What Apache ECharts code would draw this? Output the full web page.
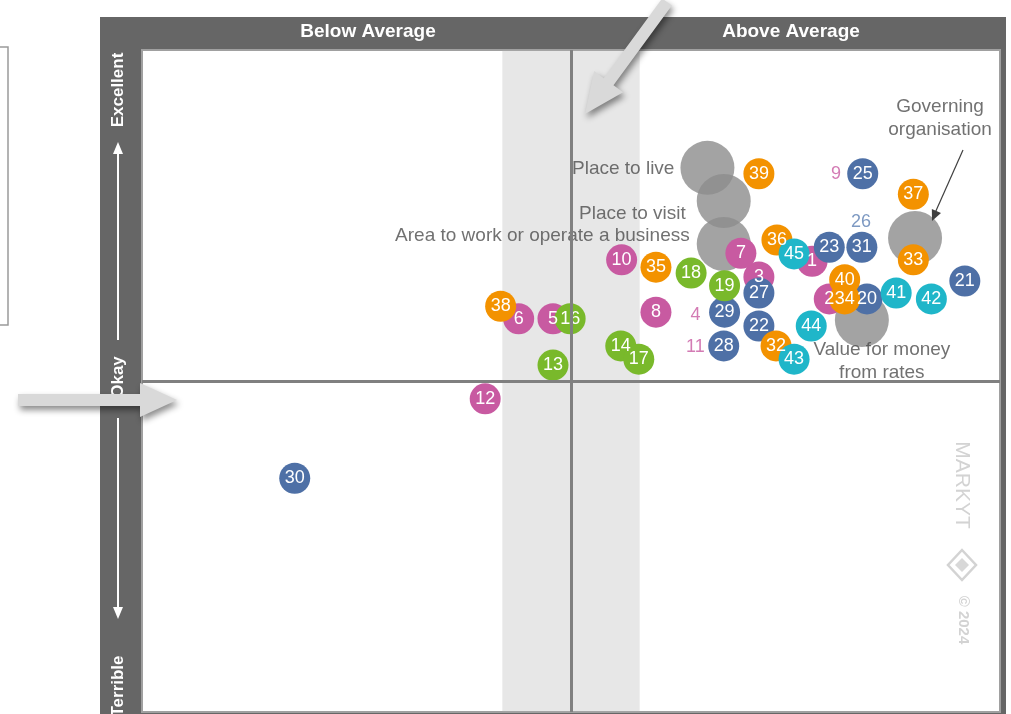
<!DOCTYPE html>
<html>
<head>
<meta charset="utf-8">
<script src="https://cdn.jsdelivr.net/npm/echarts@6/dist/echarts.min.js"></script>
<style>
  html, body { margin: 0; padding: 0; background: #fff; }
  #main { width: 1011px; height: 714px; }
</style>
</head>
<body>
<div id="main"></div>
<script>
// each point: [reputation score (x), performance score (y), council id]
var pinkPts = [[78.1, 68.1, '1'], [80.1, 62.4, '2'], [71.9, 65.7, '3'], [43.9, 59.4, '6'], [47.9, 59.4, '5'],
  [69.8, 69.3, '7'], [59.9, 60.4, '8'], [55.9, 68.3, '10'], [40.0, 47.3, '12']];
var pinkTextOnly = [[64.5, 60.0, '4'], [80.9, 81.3, '9'], [64.5, 55.1, '11']];
var bluePts = [[84.5, 62.4, '20'], [95.9, 65.1, '21'], [71.9, 58.3, '22'], [80.1, 70.2, '23'], [84.0, 81.3, '25'],
  [71.9, 63.3, '27'], [67.8, 55.3, '28'], [67.9, 60.4, '29'], [17.8, 35.3, '30'], [83.9, 70.2, '31']];
var blueTextOnly = [[83.8, 74.0, '26']];
var orangePts = [[73.9, 55.3, '32'], [89.9, 68.3, '33'], [81.9, 65.3, '40'], [81.9, 62.4, '34'], [59.9, 67.2, '35'],
  [74.0, 71.3, '36'], [89.9, 78.2, '37'], [41.8, 61.3, '38'], [71.9, 81.3, '39']];
var greenPts = [[47.9, 52.4, '13'], [55.8, 55.3, '14'], [49.9, 59.4, '16'], [57.9, 53.3, '17'], [64.0, 66.3, '18'],
  [67.9, 64.4, '19']];
var tealPts = [[87.9, 63.3, '41'], [92.0, 62.4, '42'], [76.0, 53.3, '43'], [78.0, 58.3, '44'], [76.0, 69.2, '45']];
// overall averages per dimension
var greyNames = ['Place to live', 'Place to visit', 'Area to work or operate a business', 'Governing\norganisation', 'Value for money\nfrom rates'];
var greyPts = [[65.9, 82.2], [67.8, 77.2], [67.8, 70.7], [90.1, 71.6], [83.9, 59.2]];
var averageBand = [42, 58];
var midValue = 50;

var myChart = echarts.init(document.getElementById('main'));

function arrowPts(sx, sy, tx, ty, bw, hw, hl) {
  var dx = tx - sx, dy = ty - sy, len = Math.sqrt(dx * dx + dy * dy);
  var ux = dx / len, uy = dy / len, nx = -uy, ny = ux;
  var bx = tx - hl * ux, by = ty - hl * uy;
  return [[sx + bw * nx, sy + bw * ny], [bx + bw * nx, by + bw * ny], [bx + hw * nx, by + hw * ny], [tx, ty],
    [bx - hw * nx, by - hw * ny], [bx - bw * nx, by - bw * ny], [sx - bw * nx, sy - bw * ny]];
}

var greyLabels = [
  { position: 'left', distance: 6, offset: [0, 1] },
  { position: 'left', distance: 11, offset: [0, 13] },
  { position: 'left', distance: 7, offset: [0, -8] },
  { position: 'top', distance: 70, offset: [25, 0], align: 'center' },
  { position: 'bottom', distance: -9, offset: [20, 0], align: 'center' }
];

function bubbleSeries(name, pts, color, z) {
  return {
    name: name,
    type: 'scatter',
    z: z,
    symbolSize: 31,
    itemStyle: { color: color, opacity: 1 },
    label: {
      show: true, position: 'inside', color: '#fff', fontSize: 18,
      fontFamily: 'Liberation Sans',
      formatter: function (p) { return p.data[2]; }
    },
    emphasis: { disabled: true },
    data: pts
  };
}

function textSeries(name, pts, color) {
  return {
    name: name,
    type: 'scatter',
    z: 3,
    symbolSize: 1,
    itemStyle: { color: 'rgba(0,0,0,0)' },
    label: {
      show: true, position: 'inside', color: color, fontSize: 18,
      fontFamily: 'Liberation Sans',
      formatter: function (p) { return p.data[2]; }
    },
    emphasis: { disabled: true },
    data: pts
  };
}

var labelFont = { fontFamily: 'Liberation Sans', fontSize: 19, color: '#4d4d4d', lineHeight: 23 };

var option = {
  backgroundColor: '#fff',
  animation: false,
  grid: {
    left: 142, right: 11, top: 50, bottom: 2,
    show: true, backgroundColor: '#fff', borderColor: '#a0a0a0', borderWidth: 2
  },
  xAxis: { type: 'value', min: 0, max: 100, show: false },
  yAxis: { type: 'value', min: 0, max: 100, show: false },
  series: [
    {
      name: 'mid',
      type: 'scatter',
      z: 1,
      data: [],
      markLine: {
        silent: true, symbol: 'none', label: { show: false },
        lineStyle: { color: '#808080', width: 3, type: 'solid' },
        data: [{ xAxis: midValue }, { yAxis: midValue }]
      }
    },
    {
      name: 'Averages',
      type: 'scatter',
      z: 2,
      symbolSize: 54,
      itemStyle: { color: '#8c8c8c' },
      emphasis: { disabled: true },
      data: greyPts.map(function (p, i) {
        var l = greyLabels[i];
        return {
          value: p,
          label: Object.assign({ show: true, formatter: greyNames[i] }, labelFont, l)
        };
      })
    },
    bubbleSeries('pink', pinkPts, '#c85aa1', 3),
    bubbleSeries('blue', bluePts, '#4e70a6', 3),
    bubbleSeries('orange', orangePts, '#f39200', 3),
    bubbleSeries('green', greenPts, '#79b92b', 3),
    bubbleSeries('teal', tealPts, '#1fb6c9', 3),
    textSeries('pinkText', pinkTextOnly, '#c85aa1'),
    textSeries('blueText', blueTextOnly, '#5d7fb3'),
    {
      name: 'band',
      type: 'scatter',
      z: 10,
      data: [],
      markArea: {
        silent: true,
        itemStyle: { color: 'rgba(175,175,175,0.3)' },
        data: [[{ xAxis: averageBand[0] }, { xAxis: averageBand[1] }]]
      }
    }
  ],
  graphic: [
    { type: 'rect', z: -1, silent: true, shape: { x: 100, y: 17, width: 906, height: 710 }, style: { fill: '#666666' } },
    { type: 'rect', z: 0, silent: true, shape: { x: -10, y: 47, width: 18, height: 278 }, style: { fill: 'none', stroke: '#9a9a9a', lineWidth: 1.5 } },
    { type: 'text', z: 50, x: 368, y: 32, style: { text: 'Below Average', fill: '#fff', font: 'bold 19px "Liberation Sans"', textAlign: 'center', textVerticalAlign: 'middle' } },
    { type: 'text', z: 50, x: 791, y: 32, style: { text: 'Above Average', fill: '#fff', font: 'bold 19px "Liberation Sans"', textAlign: 'center', textVerticalAlign: 'middle' } },
    { type: 'text', z: 50, x: 118, y: 90, rotation: Math.PI / 2, style: { text: 'Excellent', fill: '#fff', font: 'bold 17px "Liberation Sans"', textAlign: 'center', textVerticalAlign: 'middle' } },
    { type: 'text', z: 50, x: 118, y: 377, rotation: Math.PI / 2, style: { text: 'Okay', fill: '#fff', font: 'bold 17px "Liberation Sans"', textAlign: 'center', textVerticalAlign: 'middle' } },
    { type: 'text', z: 50, x: 118, y: 686, rotation: Math.PI / 2, style: { text: 'Terrible', fill: '#fff', font: 'bold 17px "Liberation Sans"', textAlign: 'center', textVerticalAlign: 'middle' } },
    { type: 'line', z: 50, shape: { x1: 118, y1: 150, x2: 118, y2: 340 }, style: { stroke: '#fff', lineWidth: 2 } },
    { type: 'polygon', z: 50, shape: { points: [[118, 142], [113, 154], [123, 154]] }, style: { fill: '#fff' } },
    { type: 'line', z: 50, shape: { x1: 118, y1: 418, x2: 118, y2: 610 }, style: { stroke: '#fff', lineWidth: 2 } },
    { type: 'polygon', z: 50, shape: { points: [[118, 619], [113, 607], [123, 607]] }, style: { fill: '#fff' } },
    // annotation arrow for the governing bubble
    { type: 'line', z: 50, shape: { x1: 963, y1: 150, x2: 935, y2: 213 }, style: { stroke: '#404040', lineWidth: 1.2 } },
    { type: 'polygon', z: 50, shape: { points: arrowPts(950, 180, 932, 221, 0, 5, 11) }, style: { fill: '#404040' } },
    // big grey pointer arrows
    { type: 'polygon', z: 100, shape: { points: arrowPts(18, 400, 177, 400, 6, 17, 37) },
      style: { fill: '#d9d9d9', shadowBlur: 6, shadowColor: 'rgba(0,0,0,0.45)', shadowOffsetX: 2, shadowOffsetY: 4 } },
    { type: 'polygon', z: 100, shape: { points: arrowPts(667, 2, 585, 114, 6, 18, 40) },
      style: { fill: '#d9d9d9', shadowBlur: 6, shadowColor: 'rgba(0,0,0,0.45)', shadowOffsetX: 2, shadowOffsetY: 4 } },
    // watermark
    { type: 'text', z: 50, x: 962, y: 485, rotation: -Math.PI / 2, style: { text: 'MARKYT', fill: '#d3d3d3', font: '21px "Liberation Sans"', textAlign: 'center', textVerticalAlign: 'middle' } },
    { type: 'polygon', z: 50, shape: { points: [[962, 550], [976, 565], [962, 580], [948, 565]] }, style: { fill: 'none', stroke: '#d3d3d3', lineWidth: 2.5 } },
    { type: 'polygon', z: 50, shape: { points: [[962, 558], [969, 565], [962, 572], [955, 565]] }, style: { fill: '#d8d8d8' } },
    { type: 'text', z: 50, x: 963, y: 620, rotation: -Math.PI / 2, style: { text: '© 2024', fill: '#d3d3d3', font: 'bold 15px "Liberation Sans"', textAlign: 'center', textVerticalAlign: 'middle' } }
  ]
};

myChart.setOption(option);
</script>
</body>
</html>
